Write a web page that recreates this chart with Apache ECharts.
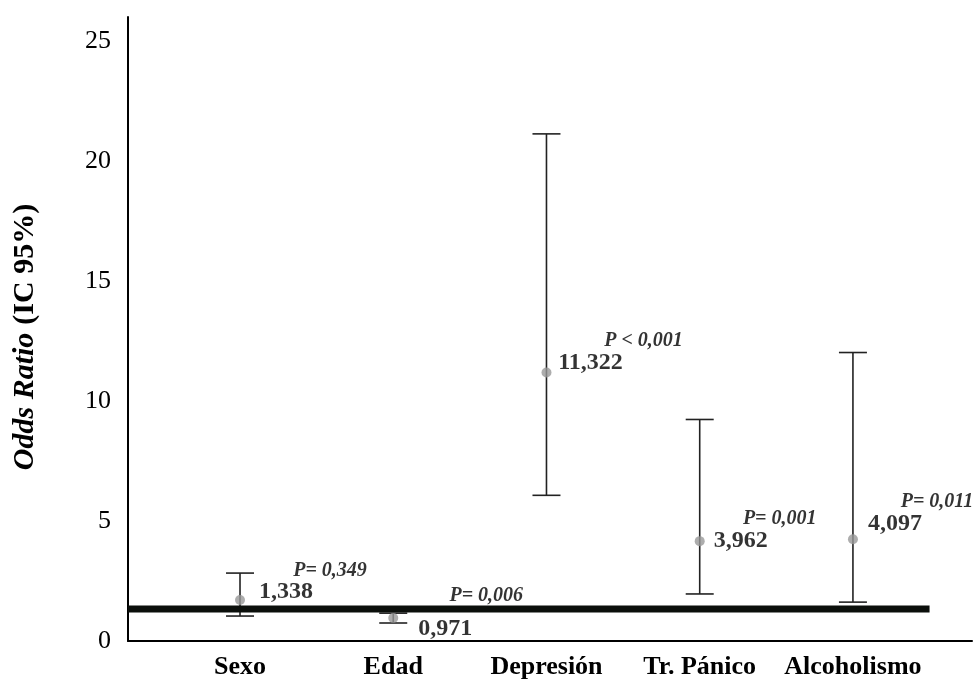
<!DOCTYPE html>
<html>
<head>
<meta charset="utf-8">
<script src="https://cdn.jsdelivr.net/npm/echarts@6/dist/echarts.min.js"></script>
<style>
html,body{margin:0;padding:0;background:#fff;}
#chart{width:974px;height:682px;}
</style>
</head>
<body>
<div id="chart"></div>
<script>
// ---- data ----
const categories = ['Sexo', 'Edad', 'Depresión', 'Tr. Pánico', 'Alcoholismo'];
const oddsPoint = [1.71, 0.96, 11.19, 4.16, 4.24];
const ciLower = [1.04, 0.75, 6.07, 1.96, 1.62];
const ciUpper = [2.83, 1.16, 21.13, 9.23, 12.02];
const orLabels = ['1,338', '0,971', '11,322', '3,962', '4,097'];
const pLabels = ['P= 0,349', 'P= 0,006', 'P < 0,001', 'P= 0,001', 'P= 0,011'];
const referenceValue = 1.33;
const yTickValues = [0, 5, 10, 15, 20, 25];

// ---- layout (label offsets in px, relative to the point) ----
const orOffsets = [[46, -8], [52, 11], [44, -10], [41, 0], [42, -15]];
const pOffsets = [[90, -29], [93, -22], [97, -32], [80, -22], [84, -37]];

const serif = "'Liberation Serif', 'Times New Roman', serif";
const xs = categories.map((c, i) => i + 1);

const chart = echarts.init(document.getElementById('chart'));
chart.setOption({
  animation: false,
  backgroundColor: '#fff',
  grid: { left: 128, right: 2, top: 17, bottom: 41, containLabel: false },
  xAxis: {
    type: 'value',
    min: 0.269,
    max: 5.777,
    axisLine: { show: true, onZero: false, lineStyle: { color: '#000', width: 2 } },
    axisTick: { show: false },
    splitLine: { show: false },
    axisLabel: {
      customValues: xs,
      formatter: v => categories[Math.round(v) - 1] || '',
      fontFamily: serif, fontWeight: 'bold', fontSize: 26, color: '#000', margin: 13
    }
  },
  yAxis: {
    type: 'value',
    min: 0, max: 26, interval: 5,
    axisLine: { show: true, lineStyle: { color: '#000', width: 2 } },
    axisTick: { show: false },
    splitLine: { show: false },
    axisLabel: {
      fontFamily: serif, fontSize: 26, color: '#000', margin: 17,
      customValues: yTickValues
    },
    name: '{i|Odds Ratio}{s| }{b|(IC 95%)}',
    nameLocation: 'middle',
    nameGap: 88,
    nameRotate: 90,
    nameTextStyle: {
      padding: [0, 16, 0, 0],
      rich: {
        i: { fontFamily: serif, fontWeight: 'bold', fontStyle: 'italic', fontSize: 30, color: '#000' },
        s: { fontFamily: serif, fontSize: 30, width: 8 },
        b: { fontFamily: serif, fontWeight: 'bold', fontSize: 30, color: '#000' }
      }
    }
  },
  series: [
    {
      type: 'custom',
      name: 'IC',
      z: 2,
      renderItem: function (params, api) {
        const x = api.value(0), lo = api.value(1), hi = api.value(2);
        const pHi = api.coord([x, hi]);
        const pLo = api.coord([x, lo]);
        const half = 14;
        const st = { stroke: '#222', lineWidth: 1.6 };
        return {
          type: 'group',
          children: [
            { type: 'line', shape: { x1: pHi[0], y1: pHi[1], x2: pLo[0], y2: pLo[1] }, style: st },
            { type: 'line', shape: { x1: pHi[0] - half, y1: pHi[1], x2: pHi[0] + half, y2: pHi[1] }, style: st },
            { type: 'line', shape: { x1: pLo[0] - half, y1: pLo[1], x2: pLo[0] + half, y2: pLo[1] }, style: st }
          ]
        };
      },
      data: xs.map((x, i) => [x, ciLower[i], ciUpper[i]])
    },
    {
      type: 'line',
      name: 'ref',
      z: 3,
      symbol: 'none',
      silent: true,
      lineStyle: { color: '#0b0f0b', width: 7 },
      data: [[0.269, referenceValue], [5.5, referenceValue]]
    },
    {
      type: 'scatter',
      name: 'OR',
      z: 4,
      symbolSize: 10,
      itemStyle: { color: '#999999' },
      data: xs.map((x, i) => [x, oddsPoint[i]])
    },
    {
      type: 'scatter',
      name: 'orLabel',
      z: 5,
      symbolSize: 0,
      silent: true,
      data: xs.map((x, i) => ({
        value: [x, oddsPoint[i]],
        label: {
          show: true, position: 'inside', offset: orOffsets[i],
          formatter: orLabels[i],
          fontFamily: serif, fontWeight: 'bold', fontSize: 24, color: '#000'
        }
      }))
    },
    {
      type: 'scatter',
      name: 'pLabel',
      z: 5,
      symbolSize: 0,
      silent: true,
      data: xs.map((x, i) => ({
        value: [x, oddsPoint[i]],
        label: {
          show: true, position: 'inside', offset: pOffsets[i],
          formatter: pLabels[i],
          fontFamily: serif, fontWeight: 'bold', fontStyle: 'italic', fontSize: 20, color: '#000'
        }
      }))
    }
  ]
});
</script>
</body>
</html>
